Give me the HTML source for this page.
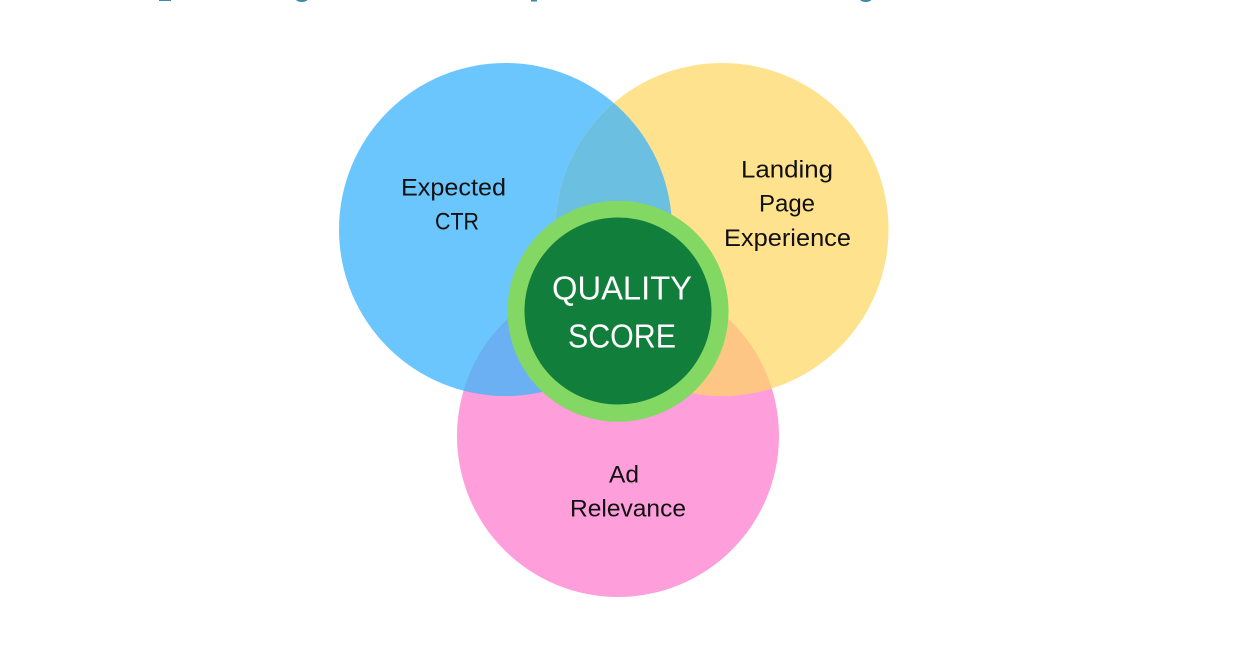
<!DOCTYPE html>
<html lang="en">
<head>
<meta charset="utf-8">
<title>Quality Score Venn Diagram</title>
<style>
html,body{margin:0;padding:0;background:#fff;width:1252px;height:672px;overflow:hidden}
svg{display:block}
text{font-family:"Liberation Sans",sans-serif;text-anchor:start}
.l{font-size:24px;fill:#111}
.q{font-size:33px;fill:#fff}
</style>
</head>
<body>
<svg width="1252" height="672" viewBox="0 0 1252 672" xmlns="http://www.w3.org/2000/svg">
<defs>
<clipPath id="cb"><circle cx="505.5" cy="229.5" r="166.5"/></clipPath>
<clipPath id="cy"><circle cx="722" cy="229.5" r="166.5"/></clipPath>
</defs>
<rect width="1252" height="672" fill="#fff"/>
<g fill="#3f87ab">
<rect x="159" y="0" width="12" height="1"/>
<path d="M296 0h11.500q-2 2-5.700 2t-5.800-2z"/>
<rect x="531" y="0" width="6" height="1.500"/>
<path d="M860 0h11.500q-2 2-5.700 2t-5.800-2z"/>
</g>
<circle cx="618" cy="436" r="161" fill="#fe9eda"/>
<circle cx="505.5" cy="229.500" r="166.500" fill="#6bc6fe"/>
<circle cx="722" cy="229.500" r="166.500" fill="#fee28e"/>
<circle cx="618" cy="436" r="161" fill="#6ab0f2" clip-path="url(#cb)"/>
<circle cx="618" cy="436" r="161" fill="#fec684" clip-path="url(#cy)"/>
<circle cx="505.5" cy="229.500" r="166.500" fill="#6bbfe0" clip-path="url(#cy)"/>
<circle cx="618" cy="311.200" r="110.500" fill="#82d862"/>
<circle cx="618" cy="311" r="93.500" fill="#127e3c"/>
<text class="l" x="401" y="195.300" textLength="105" lengthAdjust="spacingAndGlyphs">Expected</text>
<text class="l" x="435" y="229.300" textLength="44" lengthAdjust="spacingAndGlyphs">CTR</text>
<text class="l" x="741" y="177.400" textLength="92" lengthAdjust="spacingAndGlyphs">Landing</text>
<text class="l" x="759" y="211.500" textLength="56" lengthAdjust="spacingAndGlyphs">Page</text>
<text class="l" x="724" y="246.200" textLength="127" lengthAdjust="spacingAndGlyphs">Experience</text>
<text class="l" x="609" y="482.400" textLength="30" lengthAdjust="spacingAndGlyphs">Ad</text>
<text class="l" x="570" y="516.400" textLength="116" lengthAdjust="spacingAndGlyphs">Relevance</text>
<text class="q" x="552" y="299.400" textLength="140" lengthAdjust="spacingAndGlyphs">QUALITY</text>
<text class="q" x="568" y="347.400" textLength="108" lengthAdjust="spacingAndGlyphs">SCORE</text>
</svg>
</body>
</html>
